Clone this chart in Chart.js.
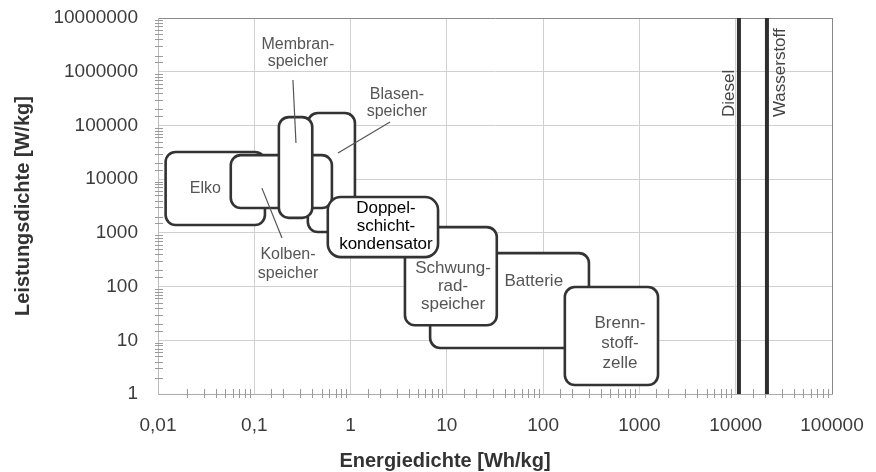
<!DOCTYPE html>
<html>
<head>
<meta charset="utf-8">
<script src="https://cdn.jsdelivr.net/npm/chart.js@4/dist/chart.umd.min.js"></script>
<style>
  body { margin: 0; background: #fff; }
  canvas { display: block; }
</style>
</head>
<body>
<canvas id="ragone" width="876" height="472"></canvas>
<script>
// storage technologies, back to front (energy Wh/kg, power W/kg)
const boxNames = ["Blasenspeicher", "Elko", "Kolbenspeicher", "Membranspeicher", "Batterie", "Brennstoffzelle", "Schwungradspeicher", "Doppelschichtkondensator"];
const energyMin = [0.36, 0.012, 0.057, 0.18, 6.7, 168, 3.67, 0.58];
const energyMax = [1.11, 0.129, 0.64, 0.40, 299, 1560, 33, 8.1];
const powerMin = [1035, 1400, 2900, 1900, 7.2, 1.47, 19, 354];
const powerMax = [170000, 32000, 28000, 143000, 420, 98, 1280, 4650];

// fuels (vertical lines)
const fuelNames = ["Diesel", "Wasserstoff"];
const fuelEnergy = [10800, 21100];

const xTickLabels = ["0,01", "0,1", "1", "10", "100", "1000", "10000", "100000"];
const yTickLabels = ["1", "10", "100", "1000", "10000", "100000", "1000000", "10000000"];

const $ = id => document.getElementById(id);
const isDecade = v => Math.abs(Math.log10(v) - Math.round(Math.log10(v))) < 1e-6;

// text placement (data coordinates)
const notes = [
  { lines: ["Membran-", "speicher"], e: 0.284, p: 2.2e6, lh: 17 },
  { lines: ["Blasen-", "speicher"], e: 3.03, p: 256000, lh: 17 },
  { lines: ["Elko"], e: 0.031, p: 6800, lh: 17 },
  { lines: ["Kolben-", "speicher"], e: 0.224, p: 257, lh: 19 },
  { lines: ["Doppel-", "schicht-", "kondensator"], e: 2.33, p: 1340, lh: 18, dark: true },
  { lines: ["Schwung-", "rad-", "speicher"], e: 11.6, p: 102, lh: 18 },
  { lines: ["Batterie"], e: 80, p: 126, lh: 18 },
  { lines: ["Brenn-", "stoff-", "zelle"], e: 628, p: 8.9, lh: 20 }
];
const leaders = [
  [0.252, 700000, 0.271, 47000],
  [2.57, 116000, 0.74, 30600],
  [0.120, 6800, 0.194, 800]
];
const fuelTextE = [8500, 28800];
const fuelTextP = 143000;

function roundRect(ctx, x0, y0, x1, y1, r) {
  ctx.beginPath();
  ctx.moveTo(x0 + r, y0);
  ctx.arcTo(x1, y0, x1, y1, r);
  ctx.arcTo(x1, y1, x0, y1, r);
  ctx.arcTo(x0, y1, x0, y0, r);
  ctx.arcTo(x0, y0, x1, y0, r);
  ctx.closePath();
}

const ragonePlugin = {
  id: "ragone",
  beforeDatasetsDraw(chart) {
    const { ctx, scales: { x, y }, chartArea: a } = chart;
    ctx.save();
    ctx.strokeStyle = "#9a9a9a";
    ctx.lineWidth = 1;
    // minor ticks
    x.ticks.forEach(t => {
      if (isDecade(t.value)) return;
      const px = Math.round(x.getPixelForValue(t.value)) + 0.5;
      ctx.beginPath(); ctx.moveTo(px, a.bottom - 5); ctx.lineTo(px, a.bottom + 4); ctx.stroke();
    });
    y.ticks.forEach(t => {
      if (isDecade(t.value)) return;
      const py = Math.round(y.getPixelForValue(t.value)) + 0.5;
      ctx.beginPath(); ctx.moveTo(a.left - 3, py); ctx.lineTo(a.left + 5, py); ctx.stroke();
    });
    ctx.restore();
  },
  afterDatasetsDraw(chart) {
    const { ctx, scales: { x, y } } = chart;
    ctx.save();
    // boxes
    boxNames.forEach((name, i) => {
      const x0 = x.getPixelForValue(energyMin[i]), x1 = x.getPixelForValue(energyMax[i]);
      const y0 = y.getPixelForValue(powerMax[i]), y1 = y.getPixelForValue(powerMin[i]);
      roundRect(ctx, x0, y0, x1, y1, i === 7 ? 13 : 10);
      ctx.fillStyle = "#fff";
      ctx.fill();
      ctx.lineWidth = 2.6;
      ctx.strokeStyle = "#333";
      ctx.stroke();
    });
    // leader lines
    ctx.strokeStyle = "#555";
    ctx.lineWidth = 1.2;
    leaders.forEach(([e0, p0, e1, p1]) => {
      ctx.beginPath();
      ctx.moveTo(x.getPixelForValue(e0), y.getPixelForValue(p0));
      ctx.lineTo(x.getPixelForValue(e1), y.getPixelForValue(p1));
      ctx.stroke();
    });
    // labels
    ctx.textAlign = "center";
    ctx.textBaseline = "middle";
    notes.forEach(n => {
      ctx.fillStyle = n.dark ? "#000" : "#555";
      ctx.font = (n.lines.length > 2 || n.dark || n.lines[0] === "Batterie" ? "17px" : "16px") + " 'Liberation Sans', Arial, sans-serif";
      const cx = x.getPixelForValue(n.e), cy = y.getPixelForValue(n.p);
      const top = cy - (n.lines.length - 1) * n.lh / 2;
      n.lines.forEach((l, k) => ctx.fillText(l, cx, top + k * n.lh));
    });
    // fuel names, rotated
    ctx.fillStyle = "#444";
    ctx.font = "17px 'Liberation Sans', Arial, sans-serif";
    ctx.textAlign = "left";
    fuelNames.forEach((name, i) => {
      ctx.save();
      ctx.translate(x.getPixelForValue(fuelTextE[i]), y.getPixelForValue(fuelTextP));
      ctx.rotate(-Math.PI / 2);
      ctx.fillText(name, 0, 0);
      ctx.restore();
    });
    // x axis title
    ctx.fillStyle = "#333";
    ctx.font = "bold 20px 'Liberation Sans', Arial, sans-serif";
    ctx.textAlign = "center";
    ctx.fillText("Energiedichte [Wh/kg]", 445, 461);
    ctx.restore();
  }
};

const fuelDatasets = fuelNames.map((name, i) => ({
  label: name,
  data: [{ x: fuelEnergy[i], y: 1 }, { x: fuelEnergy[i], y: 1e7 }],
  showLine: true,
  borderColor: "#2e2e2e",
  borderWidth: 4,
  pointRadius: 0
}));

new Chart($("ragone").getContext("2d"), {
  type: "scatter",
  data: { datasets: fuelDatasets },
  options: {
    responsive: false,
    animation: false,
    layout: { padding: { top: 18, right: 44, left: 0, bottom: 0 } },
    plugins: { legend: { display: false }, tooltip: { enabled: false } },
    scales: {
      x: {
        type: "logarithmic",
        min: 0.01,
        max: 100000,
        afterFit: s => { s.height = 78; s.paddingLeft = 0; s.paddingRight = 0; },
        border: { display: true, color: "#aaa" },
        grid: {
          drawTicks: false,
          tickLength: 0,
          color: c => !isDecade(c.tick.value) ? "rgba(0,0,0,0)" : (c.tick.value >= 100000 ? "#8a8a8a" : "#d0d0d0")
        },
        ticks: {
          autoSkip: false,
          maxRotation: 0,
          padding: 20,
          color: "#3c3c3c",
          font: { family: "'Liberation Sans', Arial, sans-serif", size: 19 },
          callback: v => isDecade(v) ? xTickLabels[Math.round(Math.log10(v)) + 2] : ""
        }
      },
      y: {
        type: "logarithmic",
        min: 1,
        max: 10000000,
        afterFit: s => { s.width = 158; s.paddingTop = 0; s.paddingBottom = 0; },
        border: { display: true, color: "#bbb" },
        grid: {
          drawTicks: false,
          tickLength: 0,
          color: c => !isDecade(c.tick.value) ? "rgba(0,0,0,0)" : (c.tick.value >= 10000000 ? "#8a8a8a" : "#d0d0d0")
        },
        ticks: {
          autoSkip: false,
          padding: 20,
          color: "#3c3c3c",
          font: { family: "'Liberation Sans', Arial, sans-serif", size: 19 },
          callback: v => isDecade(v) ? yTickLabels[Math.round(Math.log10(v))] : ""
        },
        title: {
          display: true,
          text: "Leistungsdichte [W/kg]",
          color: "#333",
          padding: { top: 11, bottom: 0 },
          font: { family: "'Liberation Sans', Arial, sans-serif", size: 20, weight: "bold", lineHeight: 1.2 }
        }
      }
    }
  },
  plugins: [ragonePlugin]
});
</script>
</body>
</html>
